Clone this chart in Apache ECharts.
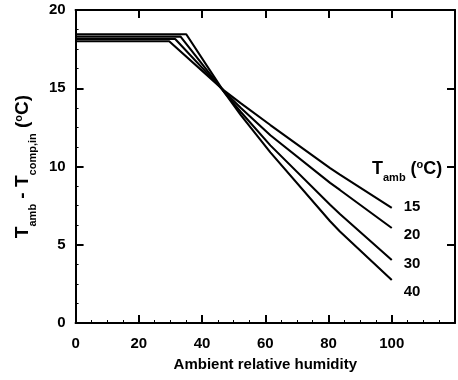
<!DOCTYPE html>
<html>
<head>
<meta charset="utf-8">
<script src="https://cdn.jsdelivr.net/npm/echarts@6/dist/echarts.min.js"></script>
<style>
html,body{margin:0;padding:0;background:#fff;}
#chart{width:458px;height:380px;}
</style>
</head>
<body>
<div id="chart"></div>
<script>
// Data
const seriesNames = ['15', '20', '30', '40'];
const rh15 = [0, 29.6, 47, 52.2, 61.6, 80.5, 83.6, 100];
const dT15 = [18.0, 18.0, 14.85, 14.05, 12.65, 9.9, 9.48, 7.35];
const rh20 = [0, 31.5, 47, 52.2, 61.6, 80.5, 83.6, 100];
const dT20 = [18.15, 18.15, 14.8, 13.75, 12.0, 8.95, 8.5, 6.07];
const rh30 = [0, 33.2, 47, 52.2, 61.6, 80.5, 83.6, 100];
const dT30 = [18.3, 18.3, 14.75, 13.5, 11.35, 7.55, 6.97, 4.03];
const rh40 = [0, 35, 47, 52.2, 61.6, 80.5, 83.6, 100];
const dT40 = [18.45, 18.45, 14.75, 13.3, 10.9, 6.5, 5.85, 2.75];
const xTicks = [0, 20, 40, 60, 80, 100];
const yTicks = [0, 5, 10, 15, 20];

const FONT = 'Liberation Sans, Arial, Helvetica, sans-serif';
const pairs = (xs, ys) => xs.map((x, i) => [x, ys[i]]);
const seriesData = [pairs(rh15, dT15), pairs(rh20, dT20), pairs(rh30, dT30), pairs(rh40, dT40)];
const labelDy = [-1, 7, 4, 12];

const chart = echarts.init(document.getElementById('chart'), null, {renderer: 'canvas'});

const axisLineStyle = {color: '#000', width: 2};
const tickStyle = {color: '#000', width: 2};

const option = {
  animation: false,
  backgroundColor: '#fff',
  grid: {left: 74, right: 2, top: 10, bottom: 57, containLabel: false},
  xAxis: [{
    type: 'value', min: 0, max: 120, interval: 20, position: 'bottom',
    name: 'Ambient relative humidity', nameLocation: 'middle', nameGap: 34,
    nameTextStyle: {fontFamily: FONT, fontSize: 15, fontWeight: 'bold', color: '#000'},
    axisLine: {show: true, onZero: false, lineStyle: axisLineStyle},
    axisTick: {show: true, inside: true, length: 8, lineStyle: tickStyle},
    minorTick: {show: true, splitNumber: 4, length: 3, lineStyle: {color: '#000', width: 1}},
    axisLabel: {show: true, margin: 13, fontFamily: FONT, fontSize: 15, fontWeight: 'bold', color: '#000',
      formatter: v => xTicks.indexOf(v) >= 0 ? String(v) : ''},
    splitLine: {show: false}
  }, {
    type: 'value', min: 0, max: 120, interval: 20, position: 'top',
    axisLine: {show: true, onZero: false, lineStyle: axisLineStyle},
    axisTick: {show: true, inside: true, length: 8, lineStyle: tickStyle},
    axisLabel: {show: false}, splitLine: {show: false}
  }],
  yAxis: [{
    type: 'value', min: 0, max: 20, interval: 5, position: 'left',
    name: '{m|T}{s|amb}{m| - T}{s|comp,in}{m| (}{p|o}{m|C)}',
    nameLocation: 'middle', nameRotate: 90, nameGap: 32,
    nameTextStyle: {
      fontFamily: FONT, color: '#000',
      rich: {
        m: {fontFamily: FONT, fontSize: 19, fontWeight: 'bold', color: '#000', lineHeight: 30},
        s: {fontFamily: FONT, fontSize: 11, fontWeight: 'bold', color: '#000', lineHeight: 11, verticalAlign: 'bottom'},
        p: {fontFamily: FONT, fontSize: 11, fontWeight: 'bold', color: '#000', lineHeight: 11, verticalAlign: 'top', padding: [5, 0, 0, 0]}
      }
    },
    axisLine: {show: true, onZero: false, lineStyle: axisLineStyle},
    axisTick: {show: true, inside: true, length: 8, lineStyle: tickStyle},
    minorTick: {show: true, splitNumber: 4, length: 3, lineStyle: {color: '#000', width: 1}},
    axisLabel: {show: true, margin: 10, fontFamily: FONT, fontSize: 15, fontWeight: 'bold', color: '#000',
      formatter: v => yTicks.indexOf(v) >= 0 ? String(v) : ''},
    splitLine: {show: false}
  }, {
    type: 'value', min: 0, max: 20, interval: 5, position: 'right',
    axisLine: {show: true, onZero: false, lineStyle: axisLineStyle},
    axisTick: {show: true, inside: true, length: 8, lineStyle: tickStyle},
    axisLabel: {show: false}, splitLine: {show: false}
  }],
  graphic: [{
    type: 'text', left: 372, top: 155, z: 100,
    style: {
      text: '{m|T}{s|amb}{m| (}{p|o}{m|C)}',
      fill: '#000',
      rich: {
        m: {fontFamily: FONT, fontSize: 18, fontWeight: 'bold', fill: '#000', lineHeight: 28},
        s: {fontFamily: FONT, fontSize: 11, fontWeight: 'bold', fill: '#000', lineHeight: 11, verticalAlign: 'bottom'},
        p: {fontFamily: FONT, fontSize: 11, fontWeight: 'bold', fill: '#000', lineHeight: 11, verticalAlign: 'top', padding: [4, 0, 0, 0]}
      }
    }
  }],
  series: seriesNames.map((n, i) => ({
    name: n, type: 'line', xAxisIndex: 0, yAxisIndex: 0,
    data: seriesData[i], showSymbol: false, symbol: 'none', smooth: false,
    lineStyle: {color: '#000', width: 2.1},
    endLabel: {show: true, formatter: n, distance: 12, offset: [0, labelDy[i]],
      fontFamily: FONT, fontSize: 15, fontWeight: 'bold', color: '#000'}
  }))
};
chart.setOption(option);
</script>
</body>
</html>
